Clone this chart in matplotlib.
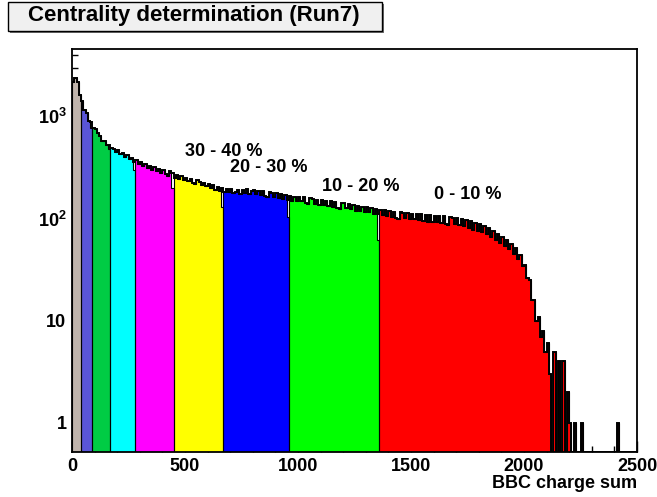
import numpy as np
import matplotlib
matplotlib.use('Agg')
import matplotlib.pyplot as plt
from matplotlib.patches import Rectangle
from matplotlib.ticker import FixedLocator, MultipleLocator, LogLocator, NullFormatter

plt.rcParams['font.family'] = ['Liberation Sans', 'DejaVu Sans']
plt.rcParams['font.weight'] = 'bold'
plt.rcParams['mathtext.fontset'] = 'custom'
plt.rcParams['mathtext.rm'] = 'Liberation Sans:bold'
plt.rcParams['mathtext.default'] = 'rm'

# BBC charge sum histogram, 10 units per bin, 0..2500
bin_width = 10
counts = np.array([
    2150, 2380, 2150, 1620, 1400, 1160, 1090, 910, 880, 770,
    760, 680, 640, 575, 570, 520, 525, 485, 480, 450,
    465, 425, 440, 400, 415, 380, 395, 360, 372, 345,
    360, 330, 345, 312, 330, 300, 318, 292, 306, 282,
    298, 272, 262, 290, 276, 252, 268, 246, 258, 240,
    252, 232, 245, 224, 218, 236, 229, 212, 222, 206,
    218, 198, 212, 192, 205, 186, 197, 182, 194, 180,
    195, 176, 180, 192, 172, 190, 178, 193, 175, 188,
    190, 172, 188, 170, 184, 166, 162, 180, 178, 164,
    176, 160, 172, 155, 170, 152, 166, 150, 164, 149,
    164, 148, 161, 143, 140, 158, 156, 139, 152, 137,
    152, 136, 149, 133, 147, 130, 145, 128, 124, 142,
    141, 126, 139, 123, 136, 119, 133, 118, 130, 116,
    129, 115, 127, 112, 124, 110, 121, 108, 120, 107,
    118, 104, 117, 102, 98, 115, 114, 101, 113, 99,
    112, 98, 111, 96, 110, 94, 109, 93, 108, 92,
    107, 92, 106, 90, 105, 89, 86, 104, 102, 88,
    101, 86, 99, 84, 96, 81, 94, 78, 90, 76,
    88, 74, 84, 70, 80, 66, 76, 62, 71, 58,
    66, 54, 62, 50, 57, 45, 51, 40, 44, 34,
    35, 26, 25, 16, 16, 10, 11, 7, 8, 5,
    6, 3, 0, 5, 0, 4, 0, 4, 0, 2,
    1, 0, 1, 0, 0, 1, 0, 0, 0, 0,
    0, 0, 0, 0, 0, 0, 0, 0, 0, 0,
    0, 1, 0, 0, 0, 0, 0, 0, 0, 0,
], dtype=float)

# centrality class boundaries (charge sum) and fill colours, peripheral -> central
class_edges = [0, 40, 90, 170, 280, 450, 670, 960, 1360, 2500]
class_colors = ['#c0b4ac', '#5a55d8', '#00cc44', '#00ffff', '#ff00ff',
                '#ffff00', '#0000ff', '#00ff00', '#ff0000']
# filled height of the split bin just left of each boundary
split_fill = [1620, 770, 480, 300, 198, 131, 104, 62]

class_labels = ['30 - 40 %', '20 - 30 %', '10 - 20 %', '0 - 10 %']
label_x = [673, 872, 1278, 1749]
label_y = [452, 313, 205, 171]

ymin, ymax = 0.52, 4530

W, H = 657, 497
fig = plt.figure(figsize=(W / 100, H / 100), dpi=100)
ax = fig.add_axes([72 / W, 1 - 452 / H, 565 / W, 402.7 / H])
ax.set_yscale('log')
ax.set_axisbelow(True)

edges = np.arange(0, 2500 + bin_width, bin_width)

for i, col in enumerate(class_colors):
    lo = class_edges[i] // bin_width
    hi = class_edges[i + 1] // bin_width
    vals = counts[lo:hi].copy()
    if i < len(split_fill):
        vals[-1] = split_fill[i]
    vals = np.maximum(vals, ymin)
    ax.stairs(vals, edges[lo:hi + 1], fill=True, color=col, baseline=ymin, zorder=2)
    ax.stairs(vals, edges[lo:hi + 1], color='black', lw=0.8, baseline=ymin, zorder=3)

# total outline on top
ax.stairs(np.maximum(counts, ymin), edges, color='black', lw=1.4, baseline=None, zorder=4)

for txt, x, y in zip(class_labels, label_x, label_y):
    ax.text(x, y, txt, ha='center', va='center', fontsize=13, fontweight='bold')

ax.set_xlim(0, 2500)
ax.set_ylim(ymin, ymax)

ax.xaxis.set_major_locator(MultipleLocator(500))
ax.xaxis.set_minor_locator(MultipleLocator(100))
ax.yaxis.set_major_locator(FixedLocator([1, 10, 100, 1000]))
ax.set_yticklabels(['1', '10', r'$10^{2}$', r'$10^{3}$'])
ax.yaxis.set_minor_locator(LogLocator(base=10, subs=np.arange(2, 10)))
ax.yaxis.set_minor_formatter(NullFormatter())

ax.tick_params(which='both', direction='in', top=False, right=False, labelsize=13)
ax.tick_params(which='major', length=8, width=1)
ax.tick_params(which='minor', length=4.5, width=1)
ax.tick_params(axis='x', pad=4)
ax.tick_params(axis='y', pad=4)
for s in ax.spines.values():
    s.set_linewidth(1.3)

fig.text(637 / W, 1 - 483 / H, 'BBC charge sum', ha='right', va='center',
         fontsize=13, fontweight='bold')

# title pave with shadow
bx0, bx1, by0, by1 = 8.3, 381.7, 1.7, 30.5
fig.add_artist(Rectangle(((bx0 + 2) / W, 1 - (by1 + 2) / H), (bx1 - bx0) / W, (by1 - by0) / H,
                         transform=fig.transFigure, facecolor='#707070', edgecolor='none'))
fig.add_artist(Rectangle((bx0 / W, 1 - by1 / H), (bx1 - bx0) / W, (by1 - by0) / H,
                         transform=fig.transFigure, facecolor='#f0f0f0', edgecolor='black', lw=1))
fig.text(28 / W, 1 - 16 / H, 'Centrality determination (Run7)', ha='left', va='center',
         fontsize=16, fontweight='bold')

fig.savefig('out.png', dpi=100)
